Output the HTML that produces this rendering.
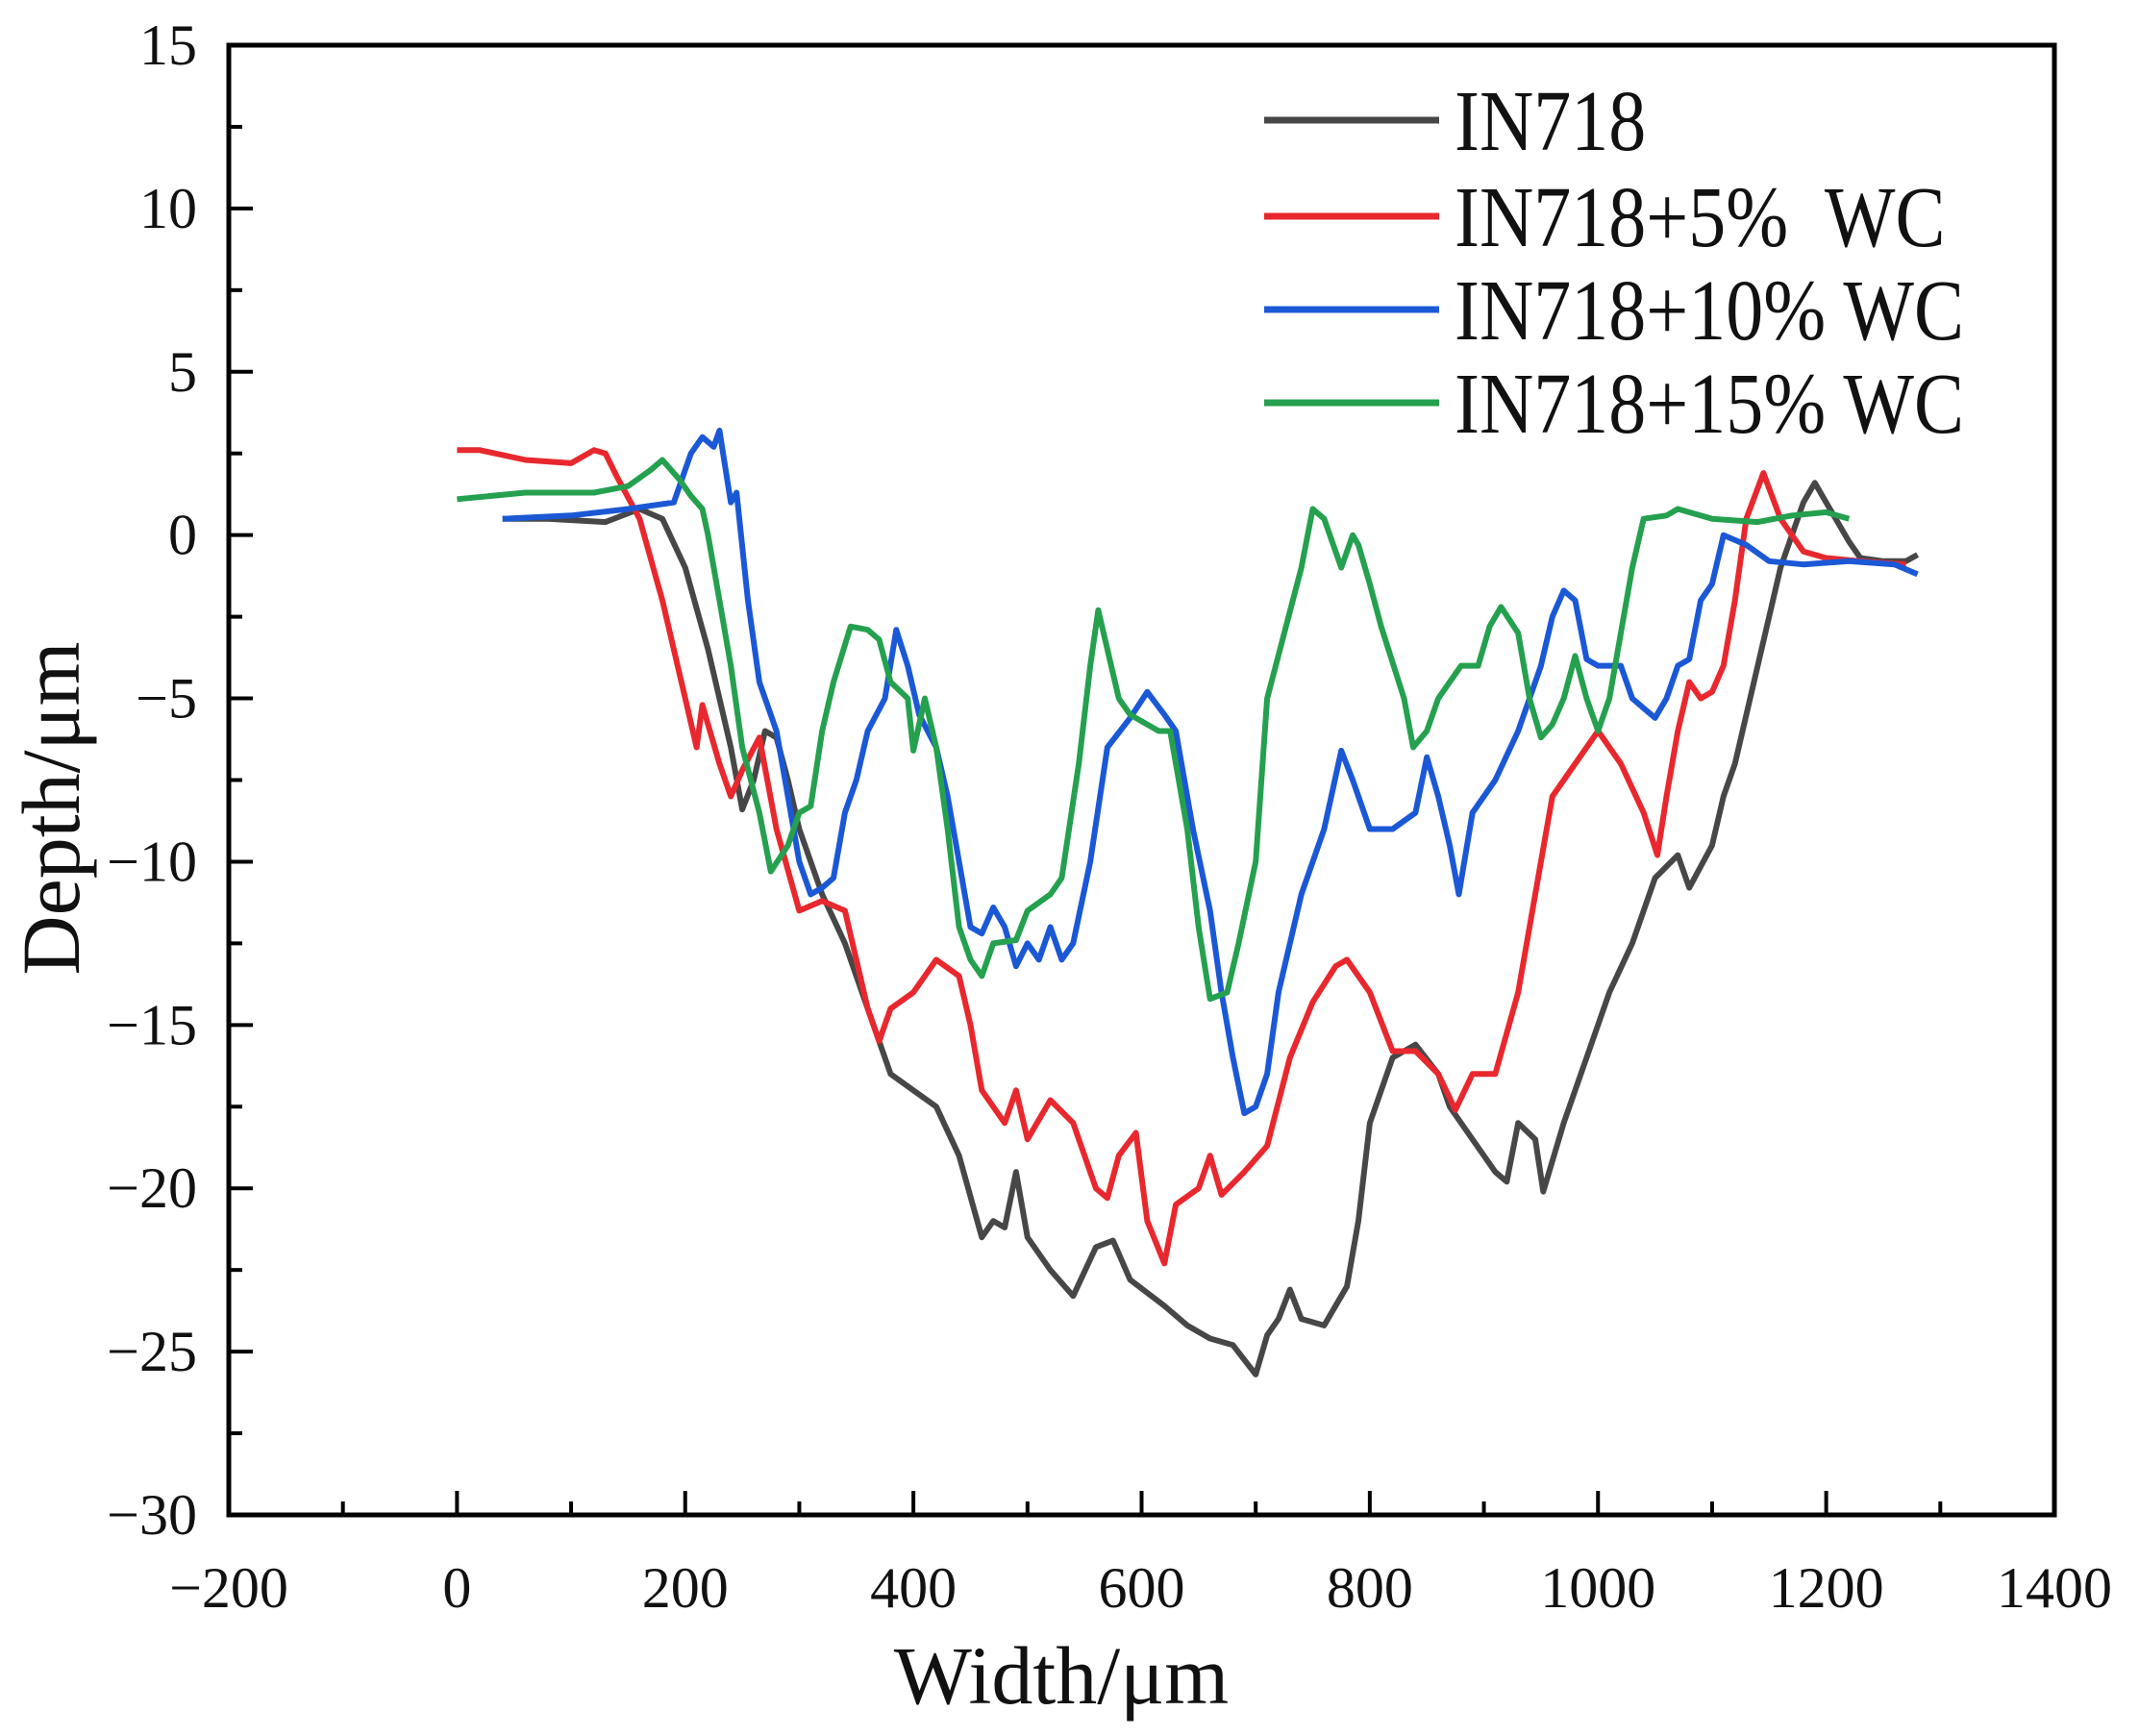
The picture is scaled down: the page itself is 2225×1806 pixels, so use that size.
<!DOCTYPE html>
<html><head><meta charset="utf-8">
<style>
html,body{margin:0;padding:0;background:#fff;}
svg{display:block;}
text{font-family:"Liberation Serif",serif;fill:#111;}
</style></head>
<body>
<svg id="chart" width="2225" height="1806" viewBox="0 0 2225 1806" xmlns="http://www.w3.org/2000/svg">
</svg>
<script>
const xTicks = [-200,0,200,400,600,800,1000,1200,1400];
const yTicks = [15,10,5,0,-5,-10,-15,-20,-25,-30];
const seriesNames = ["IN718","IN718+5%  WC","IN718+10% WC","IN718+15% WC"];
const seriesColors = ["#474747","#e8282e","#1b58d6","#25a04f"];
const blackX = [40,80,130,160,180,200,220,240,250,260,270,280,290,300,320,340,360,380,400,420,440,460,470,480,490,500,520,540,560,575,590,620,640,660,680,700,710,720,730,740,760,780,790,800,820,840,860,870,890,910,920,930,945,952,970,990,1010,1030,1050,1070,1080,1100,1110,1120,1140,1160,1180,1190,1200,1220,1230,1250,1270,1280];
const blackY = [0.5,0.5,0.4,0.8,0.5,-1,-3.5,-6.5,-8.4,-7.5,-6,-6.2,-7.5,-9,-11,-12.5,-14.5,-16.5,-17,-17.5,-19,-21.5,-21,-21.2,-19.5,-21.5,-22.5,-23.3,-21.8,-21.6,-22.8,-23.6,-24.2,-24.6,-24.8,-25.7,-24.5,-24,-23.1,-24,-24.2,-23,-21,-18,-16,-15.6,-16.5,-17.5,-18.5,-19.5,-19.8,-18,-18.5,-20.1,-18,-16,-14,-12.5,-10.5,-9.8,-10.8,-9.5,-8,-7,-4,-1,1,1.6,1,-0.2,-0.7,-0.8,-0.8,-0.6];
const redX = [0,20,60,100,120,130,140,160,180,200,210,215,230,240,250,265,280,300,320,340,360,370,380,400,420,440,450,460,470,480,490,500,520,540,560,570,580,595,605,620,630,650,660,670,690,710,730,750,770,780,800,820,840,860,875,890,910,930,950,960,980,1000,1020,1040,1052,1060,1070,1080,1090,1100,1110,1120,1130,1145,1160,1180,1200,1230,1270];
const redY = [2.6,2.6,2.3,2.2,2.6,2.5,1.8,0.5,-2,-5,-6.5,-5.2,-7,-8,-7.2,-6.2,-9,-11.5,-11.2,-11.5,-14.5,-15.5,-14.5,-14,-13,-13.5,-15,-17,-17.5,-18,-17,-18.5,-17.3,-18,-20,-20.3,-19,-18.3,-21,-22.3,-20.5,-20,-19,-20.2,-19.5,-18.7,-16,-14.3,-13.2,-13,-14,-15.8,-15.8,-16.5,-17.6,-16.5,-16.5,-14,-10,-8,-7,-6,-7,-8.5,-9.8,-8,-6,-4.5,-5,-4.8,-4,-2,0.5,1.9,0.5,-0.5,-0.7,-0.8,-0.9];
const blueX = [40,100,150,190,205,215,225,230,240,245,255,265,280,290,300,310,320,330,340,350,360,375,385,395,405,420,430,440,450,460,470,480,490,500,510,520,530,540,555,570,590,605,620,630,645,660,670,680,690,700,710,720,740,760,775,785,800,820,840,850,860,870,878,890,910,930,950,960,970,980,990,1000,1020,1030,1050,1060,1070,1080,1090,1100,1110,1130,1150,1180,1220,1260,1280];
const blueY = [0.5,0.6,0.8,1,2.5,3,2.7,3.2,1,1.3,-2,-4.5,-6,-8,-10,-11,-10.8,-10.5,-8.5,-7.5,-6,-5,-2.9,-4,-5.5,-6.5,-8,-10,-12,-12.2,-11.4,-12,-13.2,-12.5,-13,-12,-13,-12.5,-10,-6.5,-5.6,-4.8,-5.5,-6,-9,-11.5,-14,-16,-17.7,-17.5,-16.5,-14,-11,-9,-6.6,-7.5,-9,-9,-8.5,-6.8,-8,-9.5,-11,-8.5,-7.5,-6,-4,-2.5,-1.7,-2,-3.8,-4,-4,-5,-5.6,-5,-4,-3.8,-2,-1.5,0,-0.3,-0.8,-0.9,-0.8,-0.9,-1.2];
const greenX = [0,60,120,150,170,180,195,205,215,220,230,240,250,265,275,290,300,310,320,330,345,360,370,380,395,400,410,420,430,440,450,460,470,490,500,520,530,545,555,562,570,580,590,600,615,625,640,650,660,675,685,700,710,725,740,750,760,770,775,785,790,800,810,830,838,850,860,880,895,905,915,930,940,950,960,970,980,990,1000,1010,1020,1030,1040,1060,1070,1100,1140,1170,1200,1220];
const greenY = [1.1,1.3,1.3,1.5,2,2.3,1.7,1.2,0.8,0,-2,-4,-6.5,-8.5,-10.3,-9.5,-8.5,-8.3,-6,-4.5,-2.8,-2.9,-3.2,-4.5,-5,-6.6,-5,-6.5,-9,-12,-13,-13.5,-12.5,-12.4,-11.5,-11,-10.5,-7,-4,-2.3,-3.5,-5,-5.5,-5.7,-6,-6,-9,-12,-14.2,-14,-12.5,-10,-5,-3,-1,0.8,0.5,-0.5,-1,0,-0.3,-1.5,-2.8,-5,-6.5,-6,-5,-4,-4,-2.8,-2.2,-3,-5,-6.2,-5.8,-5,-3.7,-5,-6,-5,-3,-1,0.5,0.6,0.8,0.5,0.4,0.6,0.7,0.5];

const L=238,R=2137,T=47,B=1576;
const X=v=>L+(v+200)/1600*(R-L);
const Y=v=>T+(15-v)/45*(B-T);
const NS="http://www.w3.org/2000/svg";
const svg=document.getElementById('chart');
function mk(tag,attrs,parent){const e=document.createElementNS(NS,tag);for(const k in attrs)e.setAttribute(k,attrs[k]);(parent||svg).appendChild(e);return e;}

const plot=mk('g',{});



const allX=[blackX,redX,blueX,greenX], allY=[blackY,redY,blueY,greenY];
const snames=['series-in718','series-in718-5wc','series-in718-10wc','series-in718-15wc'];
for(let s=0;s<4;s++){
  const pts=allX[s].map((x,i)=>X(x).toFixed(1)+','+Y(allY[s][i]).toFixed(1)).join(' ');
  const pl=mk('polyline',{points:pts,fill:'none',stroke:seriesColors[s],'stroke-width':6,'stroke-linejoin':'round'},plot);
  
  
}

const frame=mk('rect',{x:L,y:T,width:R-L,height:B-T,fill:'none',stroke:'#000','stroke-width':5});



for(let v=-200;v<=1400;v+=100){
  const major=v%200===0;
  const t=mk('line',{x1:X(v),x2:X(v),y1:B,y2:B-(major?25:14),stroke:'#000','stroke-width':4});
  
  
}
xTicks.forEach(v=>{
  const t=mk('text',{x:X(v),y:1672,'text-anchor':'middle','font-size':60});
  t.textContent=v<0?'\u2212'+Math.abs(v):String(v);
  
  
});
for(let v=-30;v<=15;v+=2.5){
  const major=v%5===0;
  const t=mk('line',{x1:L,x2:L+(major?25:14),y1:Y(v),y2:Y(v),stroke:'#000','stroke-width':4});
  
  
}
yTicks.forEach(v=>{
  const t=mk('text',{x:205,y:Y(v)+20,'text-anchor':'end','font-size':60});
  t.textContent=v<0?'\u2212'+Math.abs(v):String(v);
  
  
});
const xt=mk('text',{x:1104,y:1772,'text-anchor':'middle','font-size':86});
xt.textContent='Width/\u03bcm';


const yt=mk('text',{x:0,y:0,'text-anchor':'middle','font-size':86,transform:'translate(82,841) rotate(-90)'});
yt.textContent='Depth/\u03bcm';



const legend=mk('g',{});


const ly=[125,225,322,419];
for(let s=0;s<4;s++){
  const g=mk('g',{},legend);
  
  
  mk('line',{x1:1315,x2:1497,y1:ly[s],y2:ly[s],stroke:seriesColors[s],'stroke-width':7},g);
  const t=mk('text',{x:0,y:0,'font-size':78,transform:'translate(1513,'+(ly[s]+31)+') scale(1,1.15)'},g);
  t.textContent=seriesNames[s];
  t.setAttribute('xml:space','preserve');
  t.style.whiteSpace='pre';
}
</script>
</body></html>
